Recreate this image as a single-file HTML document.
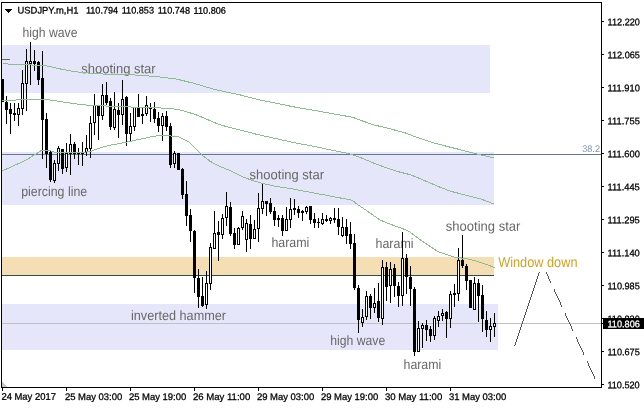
<!DOCTYPE html>
<html><head><meta charset="utf-8"><title>USDJPY.m,H1</title>
<style>
html,body{margin:0;padding:0;background:#fff;}
body{width:644px;height:408px;overflow:hidden;position:relative;}
svg{position:absolute;left:0;top:0;display:block}
.ax{font-family:"Liberation Sans",sans-serif;font-size:9.5px;fill:#000;stroke:#000;stroke-width:0.28px;}
.lb{font-family:"Liberation Sans",sans-serif;font-size:13.6px;fill:#686868;}
</style></head><body>
<svg width="644" height="408" viewBox="0 0 644 408">
<rect x="0" y="0" width="644" height="408" fill="#fff"/>
<g shape-rendering="crispEdges">

<rect x="2" y="45" width="488" height="48" fill="#e6e6fa"/>
<rect x="2" y="152" width="492" height="53" fill="#e6e6fa"/>
<rect x="2" y="304" width="496" height="46" fill="#e6e6fa"/>
<rect x="2" y="257" width="492" height="18" fill="#f5deb3"/>
<rect x="2" y="275" width="492" height="1" fill="#2f4f4f"/>
<rect x="2" y="59" width="8" height="1" fill="#666"/>
<rect x="2" y="323" width="599" height="1" fill="#c0c0c0"/>
<rect x="2" y="154" width="599" height="1" fill="#66788f"/>
</g>
<text class="lb" x="22.5" y="37.0" textLength="55.0" lengthAdjust="spacingAndGlyphs" transform="rotate(0.03 22.5 37.0)">high wave</text>
<text class="lb" x="81.2" y="73.2" textLength="74.5" lengthAdjust="spacingAndGlyphs" transform="rotate(0.03 81.2 73.2)">shooting star</text>
<text class="lb" x="21.2" y="196.0" textLength="66.0" lengthAdjust="spacingAndGlyphs" transform="rotate(0.03 21.2 196.0)">piercing line</text>
<text class="lb" x="249.6" y="179.2" textLength="74.4" lengthAdjust="spacingAndGlyphs" transform="rotate(0.03 249.6 179.2)">shooting star</text>
<text class="lb" x="271.4" y="247.2" textLength="38.0" lengthAdjust="spacingAndGlyphs" transform="rotate(0.03 271.4 247.2)">harami</text>
<text class="lb" x="375.5" y="248.2" textLength="38.0" lengthAdjust="spacingAndGlyphs" transform="rotate(0.03 375.5 248.2)">harami</text>
<text class="lb" x="445.8" y="230.8" textLength="74.6" lengthAdjust="spacingAndGlyphs" transform="rotate(0.03 445.8 230.8)">shooting star</text>
<text class="lb" x="131.0" y="320.0" textLength="95.0" lengthAdjust="spacingAndGlyphs" transform="rotate(0.03 131.0 320.0)">inverted hammer</text>
<text class="lb" x="330.2" y="344.8" textLength="55.0" lengthAdjust="spacingAndGlyphs" transform="rotate(0.03 330.2 344.8)">high wave</text>
<text class="lb" x="403.5" y="369.0" textLength="37.8" lengthAdjust="spacingAndGlyphs" transform="rotate(0.03 403.5 369.0)">harami</text>
<text class="lb" x="498.2" y="267.3" textLength="79.3" lengthAdjust="spacingAndGlyphs" transform="rotate(0.03 498 267)" style="fill:#d2a126;font-size:14.2px">Window down</text>
<g shape-rendering="crispEdges" fill="#000">
<rect x="2" y="79" width="1" height="23"/>
<rect x="1" y="79" width="3" height="23"/>
<rect x="6" y="96" width="1" height="28"/>
<rect x="5" y="102" width="3" height="8"/>
<rect x="10" y="103" width="1" height="31"/>
<rect x="9" y="109" width="3" height="5"/>
<rect x="14" y="103" width="1" height="18"/>
<rect x="13" y="113" width="3" height="2"/>
<rect x="18" y="103" width="1" height="23"/>
<rect x="17" y="108" width="3" height="7"/>
<rect x="18" y="109" width="1" height="5" fill="#fff"/>
<rect x="22" y="70" width="1" height="45"/>
<rect x="21" y="83" width="3" height="26"/>
<rect x="22" y="84" width="1" height="24" fill="#fff"/>
<rect x="26" y="49" width="1" height="62"/>
<rect x="25" y="61" width="3" height="23"/>
<rect x="26" y="62" width="1" height="21" fill="#fff"/>
<rect x="30" y="42" width="1" height="43"/>
<rect x="29" y="61" width="3" height="3"/>
<rect x="30" y="62" width="1" height="1" fill="#fff"/>
<rect x="34" y="50" width="1" height="21"/>
<rect x="33" y="61" width="3" height="3"/>
<rect x="38" y="61" width="1" height="24"/>
<rect x="37" y="62" width="3" height="18"/>
<rect x="42" y="51" width="1" height="108"/>
<rect x="41" y="78" width="3" height="42"/>
<rect x="46" y="113" width="1" height="55"/>
<rect x="45" y="119" width="3" height="35"/>
<rect x="50" y="151" width="1" height="31"/>
<rect x="49" y="152" width="3" height="28"/>
<rect x="54" y="160" width="1" height="23"/>
<rect x="53" y="163" width="3" height="18"/>
<rect x="54" y="164" width="1" height="16" fill="#fff"/>
<rect x="58" y="146" width="1" height="25"/>
<rect x="57" y="148" width="3" height="16"/>
<rect x="58" y="149" width="1" height="14" fill="#fff"/>
<rect x="62" y="149" width="1" height="25"/>
<rect x="61" y="149" width="3" height="20"/>
<rect x="66" y="143" width="1" height="29"/>
<rect x="65" y="153" width="3" height="15"/>
<rect x="66" y="154" width="1" height="13" fill="#fff"/>
<rect x="70" y="134" width="1" height="41"/>
<rect x="69" y="144" width="3" height="10"/>
<rect x="70" y="145" width="1" height="8" fill="#fff"/>
<rect x="74" y="142" width="1" height="17"/>
<rect x="73" y="144" width="3" height="10"/>
<rect x="78" y="148" width="1" height="17"/>
<rect x="77" y="153" width="3" height="1"/>
<rect x="82" y="142" width="1" height="24"/>
<rect x="81" y="152" width="3" height="2"/>
<rect x="86" y="135" width="1" height="21"/>
<rect x="85" y="148" width="3" height="4"/>
<rect x="86" y="149" width="1" height="2" fill="#fff"/>
<rect x="90" y="116" width="1" height="42"/>
<rect x="89" y="123" width="3" height="26"/>
<rect x="90" y="124" width="1" height="24" fill="#fff"/>
<rect x="94" y="94" width="1" height="41"/>
<rect x="93" y="105" width="3" height="18"/>
<rect x="94" y="106" width="1" height="16" fill="#fff"/>
<rect x="98" y="105" width="1" height="35"/>
<rect x="97" y="105" width="3" height="11"/>
<rect x="102" y="84" width="1" height="36"/>
<rect x="101" y="95" width="3" height="21"/>
<rect x="102" y="96" width="1" height="19" fill="#fff"/>
<rect x="106" y="82" width="1" height="23"/>
<rect x="105" y="95" width="3" height="8"/>
<rect x="110" y="98" width="1" height="32"/>
<rect x="109" y="101" width="3" height="26"/>
<rect x="114" y="92" width="1" height="38"/>
<rect x="113" y="109" width="3" height="19"/>
<rect x="114" y="110" width="1" height="17" fill="#fff"/>
<rect x="118" y="103" width="1" height="35"/>
<rect x="117" y="110" width="3" height="5"/>
<rect x="122" y="80" width="1" height="45"/>
<rect x="121" y="99" width="3" height="16"/>
<rect x="122" y="100" width="1" height="14" fill="#fff"/>
<rect x="126" y="96" width="1" height="50"/>
<rect x="125" y="97" width="3" height="37"/>
<rect x="130" y="113" width="1" height="28"/>
<rect x="129" y="126" width="3" height="8"/>
<rect x="130" y="127" width="1" height="6" fill="#fff"/>
<rect x="134" y="107" width="1" height="24"/>
<rect x="133" y="107" width="3" height="20"/>
<rect x="134" y="108" width="1" height="18" fill="#fff"/>
<rect x="138" y="94" width="1" height="23"/>
<rect x="137" y="108" width="3" height="9"/>
<rect x="142" y="108" width="1" height="16"/>
<rect x="141" y="114" width="3" height="2"/>
<rect x="146" y="96" width="1" height="20"/>
<rect x="145" y="105" width="3" height="9"/>
<rect x="146" y="106" width="1" height="7" fill="#fff"/>
<rect x="150" y="103" width="1" height="19"/>
<rect x="149" y="107" width="3" height="2"/>
<rect x="154" y="102" width="1" height="21"/>
<rect x="153" y="109" width="3" height="10"/>
<rect x="158" y="112" width="1" height="20"/>
<rect x="157" y="118" width="3" height="8"/>
<rect x="162" y="113" width="1" height="28"/>
<rect x="161" y="116" width="3" height="10"/>
<rect x="162" y="117" width="1" height="8" fill="#fff"/>
<rect x="166" y="111" width="1" height="20"/>
<rect x="165" y="116" width="3" height="11"/>
<rect x="170" y="123" width="1" height="45"/>
<rect x="169" y="126" width="3" height="39"/>
<rect x="174" y="151" width="1" height="17"/>
<rect x="173" y="153" width="3" height="11"/>
<rect x="174" y="154" width="1" height="9" fill="#fff"/>
<rect x="178" y="153" width="1" height="17"/>
<rect x="177" y="153" width="3" height="17"/>
<rect x="182" y="168" width="1" height="31"/>
<rect x="181" y="169" width="3" height="26"/>
<rect x="186" y="181" width="1" height="45"/>
<rect x="185" y="194" width="3" height="22"/>
<rect x="190" y="209" width="1" height="33"/>
<rect x="189" y="215" width="3" height="16"/>
<rect x="194" y="230" width="1" height="63"/>
<rect x="193" y="231" width="3" height="47"/>
<rect x="198" y="269" width="1" height="39"/>
<rect x="197" y="278" width="3" height="19"/>
<rect x="202" y="277" width="1" height="30"/>
<rect x="201" y="296" width="3" height="10"/>
<rect x="206" y="271" width="1" height="38"/>
<rect x="205" y="283" width="3" height="22"/>
<rect x="206" y="284" width="1" height="20" fill="#fff"/>
<rect x="210" y="243" width="1" height="47"/>
<rect x="209" y="247" width="3" height="37"/>
<rect x="210" y="248" width="1" height="35" fill="#fff"/>
<rect x="214" y="211" width="1" height="38"/>
<rect x="213" y="233" width="3" height="16"/>
<rect x="214" y="234" width="1" height="14" fill="#fff"/>
<rect x="218" y="221" width="1" height="40"/>
<rect x="217" y="232" width="3" height="3"/>
<rect x="222" y="214" width="1" height="25"/>
<rect x="221" y="218" width="3" height="17"/>
<rect x="222" y="219" width="1" height="15" fill="#fff"/>
<rect x="226" y="192" width="1" height="34"/>
<rect x="225" y="206" width="3" height="12"/>
<rect x="226" y="207" width="1" height="10" fill="#fff"/>
<rect x="230" y="202" width="1" height="34"/>
<rect x="229" y="207" width="3" height="27"/>
<rect x="234" y="228" width="1" height="21"/>
<rect x="233" y="233" width="3" height="12"/>
<rect x="238" y="227" width="1" height="18"/>
<rect x="237" y="228" width="3" height="17"/>
<rect x="238" y="229" width="1" height="15" fill="#fff"/>
<rect x="242" y="211" width="1" height="19"/>
<rect x="241" y="216" width="3" height="12"/>
<rect x="242" y="217" width="1" height="10" fill="#fff"/>
<rect x="246" y="219" width="1" height="33"/>
<rect x="245" y="223" width="3" height="17"/>
<rect x="246" y="224" width="1" height="15" fill="#fff"/>
<rect x="250" y="215" width="1" height="34"/>
<rect x="249" y="224" width="3" height="15"/>
<rect x="254" y="220" width="1" height="19"/>
<rect x="253" y="229" width="3" height="10"/>
<rect x="254" y="230" width="1" height="8" fill="#fff"/>
<rect x="258" y="193" width="1" height="49"/>
<rect x="257" y="208" width="3" height="21"/>
<rect x="258" y="209" width="1" height="19" fill="#fff"/>
<rect x="262" y="183" width="1" height="31"/>
<rect x="261" y="201" width="3" height="8"/>
<rect x="262" y="202" width="1" height="6" fill="#fff"/>
<rect x="266" y="201" width="1" height="15"/>
<rect x="265" y="201" width="3" height="3"/>
<rect x="270" y="198" width="1" height="16"/>
<rect x="269" y="203" width="3" height="9"/>
<rect x="274" y="207" width="1" height="19"/>
<rect x="273" y="211" width="3" height="9"/>
<rect x="278" y="215" width="1" height="12"/>
<rect x="277" y="218" width="3" height="2"/>
<rect x="282" y="215" width="1" height="21"/>
<rect x="281" y="218" width="3" height="13"/>
<rect x="286" y="207" width="1" height="24"/>
<rect x="285" y="219" width="3" height="12"/>
<rect x="286" y="220" width="1" height="10" fill="#fff"/>
<rect x="290" y="198" width="1" height="30"/>
<rect x="289" y="209" width="3" height="11"/>
<rect x="290" y="210" width="1" height="9" fill="#fff"/>
<rect x="294" y="199" width="1" height="16"/>
<rect x="293" y="208" width="3" height="2"/>
<rect x="298" y="206" width="1" height="12"/>
<rect x="297" y="209" width="3" height="4"/>
<rect x="302" y="210" width="1" height="11"/>
<rect x="301" y="211" width="3" height="2"/>
<rect x="306" y="206" width="1" height="8"/>
<rect x="305" y="207" width="3" height="5"/>
<rect x="306" y="208" width="1" height="3" fill="#fff"/>
<rect x="310" y="206" width="1" height="18"/>
<rect x="309" y="206" width="3" height="14"/>
<rect x="314" y="213" width="1" height="15"/>
<rect x="313" y="219" width="3" height="4"/>
<rect x="318" y="218" width="1" height="10"/>
<rect x="317" y="222" width="3" height="1"/>
<rect x="322" y="213" width="1" height="12"/>
<rect x="321" y="219" width="3" height="5"/>
<rect x="322" y="220" width="1" height="3" fill="#fff"/>
<rect x="326" y="215" width="1" height="7"/>
<rect x="325" y="219" width="3" height="2"/>
<rect x="330" y="217" width="1" height="7"/>
<rect x="329" y="218" width="3" height="3"/>
<rect x="330" y="219" width="1" height="1" fill="#fff"/>
<rect x="334" y="208" width="1" height="15"/>
<rect x="333" y="218" width="3" height="2"/>
<rect x="338" y="208" width="1" height="27"/>
<rect x="337" y="219" width="3" height="8"/>
<rect x="342" y="217" width="1" height="20"/>
<rect x="341" y="227" width="3" height="9"/>
<rect x="342" y="228" width="1" height="7" fill="#fff"/>
<rect x="346" y="219" width="1" height="25"/>
<rect x="345" y="227" width="3" height="9"/>
<rect x="350" y="222" width="1" height="27"/>
<rect x="349" y="234" width="3" height="10"/>
<rect x="354" y="234" width="1" height="56"/>
<rect x="353" y="243" width="3" height="45"/>
<rect x="358" y="285" width="1" height="48"/>
<rect x="357" y="288" width="3" height="32"/>
<rect x="362" y="309" width="1" height="18"/>
<rect x="361" y="317" width="3" height="6"/>
<rect x="362" y="318" width="1" height="4" fill="#fff"/>
<rect x="366" y="291" width="1" height="29"/>
<rect x="365" y="296" width="3" height="21"/>
<rect x="366" y="297" width="1" height="19" fill="#fff"/>
<rect x="370" y="294" width="1" height="25"/>
<rect x="369" y="296" width="3" height="12"/>
<rect x="374" y="288" width="1" height="25"/>
<rect x="373" y="303" width="3" height="5"/>
<rect x="374" y="304" width="1" height="3" fill="#fff"/>
<rect x="378" y="283" width="1" height="39"/>
<rect x="377" y="301" width="3" height="17"/>
<rect x="382" y="260" width="1" height="65"/>
<rect x="381" y="267" width="3" height="52"/>
<rect x="382" y="268" width="1" height="50" fill="#fff"/>
<rect x="386" y="262" width="1" height="39"/>
<rect x="385" y="267" width="3" height="20"/>
<rect x="390" y="262" width="1" height="41"/>
<rect x="389" y="269" width="3" height="17"/>
<rect x="390" y="270" width="1" height="15" fill="#fff"/>
<rect x="394" y="264" width="1" height="33"/>
<rect x="393" y="268" width="3" height="18"/>
<rect x="398" y="282" width="1" height="25"/>
<rect x="397" y="286" width="3" height="10"/>
<rect x="402" y="232" width="1" height="74"/>
<rect x="401" y="258" width="3" height="38"/>
<rect x="402" y="259" width="1" height="36" fill="#fff"/>
<rect x="406" y="254" width="1" height="40"/>
<rect x="405" y="258" width="3" height="19"/>
<rect x="410" y="266" width="1" height="40"/>
<rect x="409" y="277" width="3" height="12"/>
<rect x="414" y="287" width="1" height="69"/>
<rect x="413" y="289" width="3" height="63"/>
<rect x="418" y="321" width="1" height="31"/>
<rect x="417" y="328" width="3" height="24"/>
<rect x="418" y="329" width="1" height="22" fill="#fff"/>
<rect x="422" y="323" width="1" height="25"/>
<rect x="421" y="325" width="3" height="4"/>
<rect x="422" y="326" width="1" height="2" fill="#fff"/>
<rect x="426" y="320" width="1" height="21"/>
<rect x="425" y="325" width="3" height="5"/>
<rect x="430" y="326" width="1" height="16"/>
<rect x="429" y="329" width="3" height="7"/>
<rect x="434" y="316" width="1" height="24"/>
<rect x="433" y="318" width="3" height="18"/>
<rect x="434" y="319" width="1" height="16" fill="#fff"/>
<rect x="438" y="311" width="1" height="16"/>
<rect x="437" y="316" width="3" height="5"/>
<rect x="438" y="317" width="1" height="3" fill="#fff"/>
<rect x="442" y="309" width="1" height="12"/>
<rect x="441" y="313" width="3" height="3"/>
<rect x="442" y="314" width="1" height="1" fill="#fff"/>
<rect x="446" y="311" width="1" height="27"/>
<rect x="445" y="312" width="3" height="7"/>
<rect x="450" y="291" width="1" height="37"/>
<rect x="449" y="294" width="3" height="25"/>
<rect x="450" y="295" width="1" height="23" fill="#fff"/>
<rect x="454" y="284" width="1" height="23"/>
<rect x="453" y="293" width="3" height="2"/>
<rect x="458" y="248" width="1" height="53"/>
<rect x="457" y="260" width="3" height="34"/>
<rect x="458" y="261" width="1" height="32" fill="#fff"/>
<rect x="462" y="235" width="1" height="33"/>
<rect x="461" y="260" width="3" height="6"/>
<rect x="466" y="264" width="1" height="26"/>
<rect x="465" y="266" width="3" height="15"/>
<rect x="470" y="280" width="1" height="28"/>
<rect x="469" y="280" width="3" height="28"/>
<rect x="474" y="277" width="1" height="33"/>
<rect x="473" y="283" width="3" height="27"/>
<rect x="474" y="284" width="1" height="25" fill="#fff"/>
<rect x="478" y="279" width="1" height="43"/>
<rect x="477" y="283" width="3" height="13"/>
<rect x="482" y="285" width="1" height="47"/>
<rect x="481" y="295" width="3" height="24"/>
<rect x="486" y="311" width="1" height="26"/>
<rect x="485" y="320" width="3" height="10"/>
<rect x="490" y="318" width="1" height="24"/>
<rect x="489" y="326" width="3" height="4"/>
<rect x="490" y="327" width="1" height="2" fill="#fff"/>
<rect x="494" y="313" width="1" height="24"/>
<rect x="493" y="323" width="3" height="4"/>
<rect x="494" y="324" width="1" height="2" fill="#fff"/>
</g>
<polyline points="2.5,63.8 20.5,64.5 45.5,65.6 60.5,69.0 75.5,71.8 90.5,73.2 105.5,74.2 120.5,74.4 139.1,75.2 157.8,76.7 176.4,79.0 195.0,83.6 213.7,89.2 232.3,93.3 240.5,95.0 259.1,99.9 277.8,103.6 296.4,107.4 315.0,110.5 333.7,113.9 352.3,117.2 360.5,120.3 373.5,124.8 388.8,128.5 404.1,132.5 419.4,138.3 436.8,143.8 454.3,148.2 473.9,153.2 493.9,158.0" fill="none" stroke="#8fbc8f" stroke-width="1" shape-rendering="crispEdges"/>
<polyline points="2.5,100.3 20.5,99.9 45.5,99.3 60.5,101.6 75.5,103.8 90.5,105.5 105.5,106.0 120.5,106.4 139.1,107.5 157.8,107.9 170.8,108.4 182.0,110.3 195.0,114.4 204.3,118.1 213.7,122.4 223.0,125.6 232.3,128.0 240.5,130.2 259.1,134.9 277.8,139.0 296.4,143.1 315.0,146.5 333.7,150.6 348.5,153.6 360.5,157.6 373.5,163.0 384.5,167.1 397.5,171.5 410.7,174.8 423.7,180.2 436.8,185.9 449.9,191.1 463.0,194.4 480.5,198.8 493.9,204.0" fill="none" stroke="#8fbc8f" stroke-width="1" shape-rendering="crispEdges"/>
<polyline points="2.5,170.9 11.7,166.6 21.0,162.5 28.5,158.6 35.0,154.5 41.5,150.4 48.9,150.4 53.6,152.0 65.7,152.6 78.8,152.6 89.9,151.7 97.4,148.9 104.8,146.5 112.3,144.8 120.5,143.3 131.7,141.0 142.9,138.6 154.0,136.2 163.4,135.4 170.5,136.0 178.0,136.7 189.1,142.1 194.7,147.4 202.2,155.2 209.6,161.0 218.9,166.0 230.1,170.6 241.3,176.2 252.5,180.5 263.7,183.7 276.7,186.5 290.5,188.5 305.4,191.4 320.3,194.2 335.2,197.0 352.0,200.2 357.6,204.5 365.0,209.5 372.5,214.7 379.9,219.9 387.4,223.1 394.8,225.9 402.3,228.5 409.8,231.8 419.1,239.1 428.5,245.3 437.8,251.5 453.3,256.9 467.3,258.8 478.1,261.6 487.5,264.7 494.5,267.8" fill="none" stroke="#8fbc8f" stroke-width="1" shape-rendering="crispEdges"/>
<g shape-rendering="crispEdges" fill="#555">
<rect x="539" y="272" width="1" height="1"/>
<rect x="538" y="273" width="1" height="3"/>
<rect x="537" y="276" width="1" height="3"/>
<rect x="536" y="279" width="1" height="3"/>
<rect x="535" y="282" width="1" height="3"/>
<rect x="534" y="285" width="1" height="3"/>
<rect x="533" y="288" width="1" height="3"/>
<rect x="532" y="291" width="1" height="3"/>
<rect x="531" y="294" width="1" height="3"/>
<rect x="530" y="297" width="1" height="3"/>
<rect x="529" y="300" width="1" height="3"/>
<rect x="528" y="303" width="1" height="3"/>
<rect x="527" y="306" width="1" height="3"/>
<rect x="526" y="309" width="1" height="3"/>
<rect x="525" y="312" width="1" height="3"/>
<rect x="524" y="315" width="1" height="3"/>
<rect x="523" y="318" width="1" height="3"/>
<rect x="522" y="321" width="1" height="3"/>
<rect x="521" y="324" width="1" height="3"/>
<rect x="520" y="327" width="1" height="3"/>
<rect x="519" y="330" width="1" height="3"/>
<rect x="518" y="333" width="1" height="3"/>
<rect x="517" y="336" width="1" height="3"/>
<rect x="516" y="339" width="1" height="3"/>
<rect x="515" y="342" width="1" height="3"/>
<rect x="514" y="345" width="1" height="1"/>
<rect x="546" y="272" width="1" height="2"/>
<rect x="547" y="274" width="1" height="2"/>
<rect x="548" y="276" width="1" height="3"/>
<rect x="549" y="279" width="1" height="2"/>
<rect x="550" y="281" width="1" height="2"/>
<rect x="554" y="289" width="1" height="3"/>
<rect x="555" y="292" width="1" height="2"/>
<rect x="556" y="294" width="1" height="2"/>
<rect x="557" y="296" width="1" height="2"/>
<rect x="558" y="298" width="1" height="2"/>
<rect x="559" y="300" width="1" height="2"/>
<rect x="560" y="302" width="1" height="3"/>
<rect x="561" y="305" width="1" height="2"/>
<rect x="565" y="313" width="1" height="3"/>
<rect x="566" y="316" width="1" height="2"/>
<rect x="567" y="318" width="1" height="2"/>
<rect x="568" y="320" width="1" height="2"/>
<rect x="569" y="322" width="1" height="2"/>
<rect x="570" y="324" width="1" height="2"/>
<rect x="571" y="326" width="1" height="3"/>
<rect x="572" y="329" width="1" height="2"/>
<rect x="576" y="337" width="1" height="2"/>
<rect x="577" y="339" width="1" height="3"/>
<rect x="578" y="342" width="1" height="2"/>
<rect x="579" y="344" width="1" height="2"/>
<rect x="580" y="346" width="1" height="2"/>
<rect x="581" y="348" width="1" height="2"/>
<rect x="582" y="350" width="1" height="2"/>
<rect x="583" y="352" width="1" height="3"/>
<rect x="587" y="361" width="1" height="2"/>
<rect x="588" y="363" width="1" height="3"/>
<rect x="589" y="366" width="1" height="2"/>
<rect x="590" y="368" width="1" height="2"/>
<rect x="591" y="370" width="1" height="2"/>
<rect x="592" y="372" width="1" height="2"/>
<rect x="593" y="374" width="1" height="2"/>
<rect x="594" y="376" width="1" height="3"/>
</g>
<g shape-rendering="crispEdges" fill="#000">
<rect x="1" y="2" width="601" height="1"/>
<rect x="1" y="2" width="1" height="386"/>
<rect x="601" y="2" width="1" height="386"/>
<rect x="1" y="387" width="601" height="1"/>
<rect x="602" y="21" width="2" height="1"/>
<rect x="602" y="54" width="2" height="1"/>
<rect x="602" y="87" width="2" height="1"/>
<rect x="602" y="120" width="2" height="1"/>
<rect x="602" y="153" width="2" height="1"/>
<rect x="602" y="186" width="2" height="1"/>
<rect x="602" y="219" width="2" height="1"/>
<rect x="602" y="252" width="2" height="1"/>
<rect x="602" y="285" width="2" height="1"/>
<rect x="602" y="318" width="2" height="1"/>
<rect x="602" y="351" width="2" height="1"/>
<rect x="602" y="384" width="2" height="1"/>
<rect x="2" y="388" width="1" height="3"/>
<rect x="66" y="388" width="1" height="3"/>
<rect x="130" y="388" width="1" height="3"/>
<rect x="194" y="388" width="1" height="3"/>
<rect x="258" y="388" width="1" height="3"/>
<rect x="322" y="388" width="1" height="3"/>
<rect x="386" y="388" width="1" height="3"/>
<rect x="450" y="388" width="1" height="3"/>
<polygon points="5,9 12,9 8.5,13"/>
<polygon points="2,382 2,387 7,387" fill="#c8c8c8"/>
<rect x="603" y="318" width="41" height="11"/>
<rect x="602" y="323" width="1" height="1"/>
</g>
<text class="ax" transform="rotate(0.03 300 200)" x="607.5" y="25.0" textLength="32.3" lengthAdjust="spacingAndGlyphs">112.220</text>
<text class="ax" transform="rotate(0.03 300 200)" x="607.5" y="58.0" textLength="32.3" lengthAdjust="spacingAndGlyphs">112.065</text>
<text class="ax" transform="rotate(0.03 300 200)" x="607.5" y="91.0" textLength="32.3" lengthAdjust="spacingAndGlyphs">111.910</text>
<text class="ax" transform="rotate(0.03 300 200)" x="607.5" y="124.0" textLength="32.3" lengthAdjust="spacingAndGlyphs">111.755</text>
<text class="ax" transform="rotate(0.03 300 200)" x="607.5" y="157.0" textLength="32.3" lengthAdjust="spacingAndGlyphs">111.600</text>
<text class="ax" transform="rotate(0.03 300 200)" x="607.5" y="190.0" textLength="32.3" lengthAdjust="spacingAndGlyphs">111.445</text>
<text class="ax" transform="rotate(0.03 300 200)" x="607.5" y="223.0" textLength="32.3" lengthAdjust="spacingAndGlyphs">111.295</text>
<text class="ax" transform="rotate(0.03 300 200)" x="607.5" y="256.0" textLength="32.3" lengthAdjust="spacingAndGlyphs">111.140</text>
<text class="ax" transform="rotate(0.03 300 200)" x="607.5" y="289.0" textLength="32.3" lengthAdjust="spacingAndGlyphs">110.985</text>
<g><clipPath id="c1"><rect x="602" y="300" width="42" height="18"/></clipPath><text class="ax" transform="rotate(0.03 300 200)" clip-path="url(#c1)" x="607.5" y="322.0" textLength="32.3" lengthAdjust="spacingAndGlyphs">110.830</text></g>
<text class="ax" transform="rotate(0.03 300 200)" x="607.5" y="355.0" textLength="32.3" lengthAdjust="spacingAndGlyphs">110.675</text>
<text class="ax" transform="rotate(0.03 300 200)" x="607.5" y="388.0" textLength="32.3" lengthAdjust="spacingAndGlyphs">110.520</text>
<text class="ax" transform="rotate(0.03 300 200)" x="607.5" y="327" textLength="32.5" lengthAdjust="spacingAndGlyphs" style="fill:#fff;stroke:#fff">110.806</text>
<text class="ax" transform="rotate(0.03 300 200)" x="1.5" y="400" textLength="54.5" lengthAdjust="spacingAndGlyphs">24 May 2017</text>
<text class="ax" transform="rotate(0.03 300 200)" x="65.0" y="400" textLength="57.4" lengthAdjust="spacingAndGlyphs">25 May 03:00</text>
<text class="ax" transform="rotate(0.03 300 200)" x="129.0" y="400" textLength="57.4" lengthAdjust="spacingAndGlyphs">25 May 19:00</text>
<text class="ax" transform="rotate(0.03 300 200)" x="193.0" y="400" textLength="57.4" lengthAdjust="spacingAndGlyphs">26 May 11:00</text>
<text class="ax" transform="rotate(0.03 300 200)" x="257.0" y="400" textLength="57.4" lengthAdjust="spacingAndGlyphs">29 May 03:00</text>
<text class="ax" transform="rotate(0.03 300 200)" x="321.0" y="400" textLength="57.4" lengthAdjust="spacingAndGlyphs">29 May 19:00</text>
<text class="ax" transform="rotate(0.03 300 200)" x="385.0" y="400" textLength="57.4" lengthAdjust="spacingAndGlyphs">30 May 11:00</text>
<text class="ax" transform="rotate(0.03 300 200)" x="449.0" y="400" textLength="57.4" lengthAdjust="spacingAndGlyphs">31 May 03:00</text>
<text class="ax" transform="rotate(0.03 300 200)" x="17.5" y="13.7" textLength="60.8" lengthAdjust="spacingAndGlyphs">USDJPY.m,H1</text>
<text class="ax" transform="rotate(0.03 300 200)" x="85.8" y="13.7" textLength="32.3" lengthAdjust="spacingAndGlyphs">110.794</text>
<text class="ax" transform="rotate(0.03 300 200)" x="121.6" y="13.7" textLength="32.3" lengthAdjust="spacingAndGlyphs">110.853</text>
<text class="ax" transform="rotate(0.03 300 200)" x="157.6" y="13.7" textLength="32.3" lengthAdjust="spacingAndGlyphs">110.748</text>
<text class="ax" transform="rotate(0.03 300 200)" x="193.5" y="13.7" textLength="32.3" lengthAdjust="spacingAndGlyphs">110.806</text>
<text transform="rotate(0.03 582 152)" x="582.2" y="152" textLength="17.8" lengthAdjust="spacingAndGlyphs" style="font-family:'Liberation Sans',sans-serif;font-size:9.5px;fill:#8493ad">38.2</text>
</svg></body></html>
